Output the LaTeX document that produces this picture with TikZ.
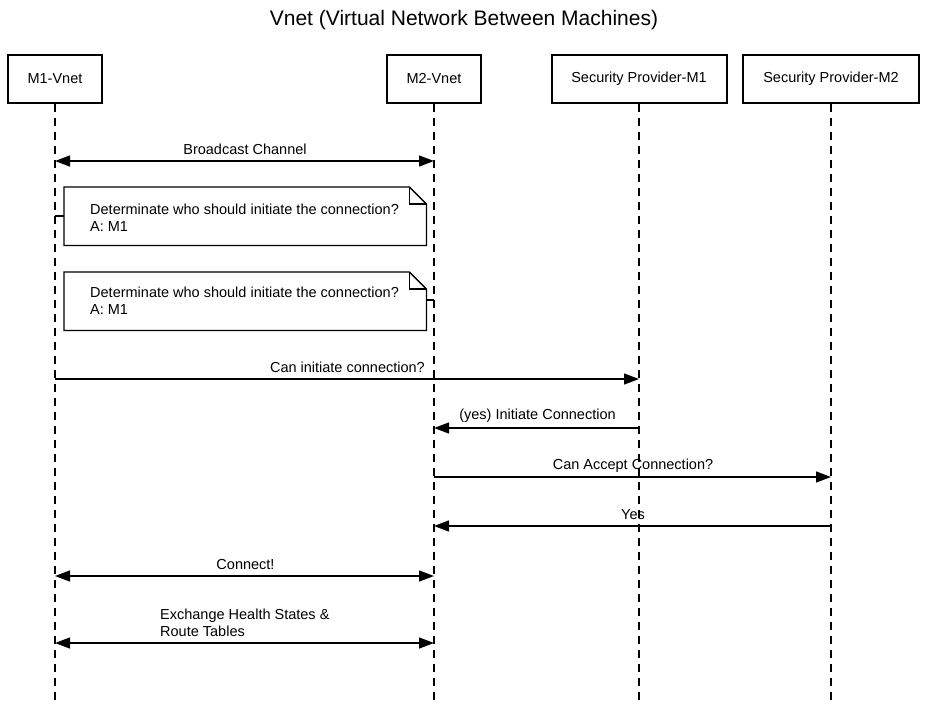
\documentclass[tikz,border=0pt]{standalone}
\usepackage{fontspec}
\setmainfont{Liberation Sans}
\usetikzlibrary{arrows.meta,calc}
\begin{document}
\begin{tikzpicture}[x=1pt,y=-1pt,
  actor/.style={draw,line width=2pt,minimum height=48pt,inner sep=0pt,font=\fontsize{14.5}{17}\selectfont},
  life/.style={line width=1.2pt,dash pattern=on 8pt off 6pt},
  tip/.tip={Triangle[length=15pt,width=11pt]},
  msg/.style={line width=1.3pt,-tip},
  bimsg/.style={line width=1.3pt,tip-tip},
  lbl/.style={font=\fontsize{14.5}{17}\selectfont,inner sep=0pt},
  notebox/.style={minimum width=362pt,minimum height=58pt,inner sep=0pt,anchor=north west},
  noteline/.style={line width=1.3pt}
]
\useasboundingbox (0,0) rectangle (928,704);
\node[font=\fontsize{21}{24}\selectfont] (title) at (464,20) {Vnet (Virtual Network Between Machines)};

% actors
\node[actor,minimum width=94pt] (m1) at (55,79) {M1-Vnet};
\node[actor,minimum width=94pt] (m2) at (434,79) {M2-Vnet};
\node[actor,minimum width=175pt] (s1) at (639,79) {Security Provider-M1};
\node[actor,minimum width=176pt] (s2) at (831,79) {Security Provider-M2};

\coordinate (m1e) at (55,704);
\coordinate (m2e) at (434,704);
\coordinate (s1e) at (639,704);
\coordinate (s2e) at (831,704);
\draw[life] (m1.south) -- (m1e);
\draw[life] (m2.south) -- (m2e);
\draw[life] (s1.south) -- (s1e);
\draw[life] (s2.south) -- (s2e);

% Broadcast channel
\coordinate (a1) at (55,161);
\coordinate (b1) at (434,161);
\draw[bimsg] (a1) -- (b1);
\node[lbl] (l1) at (245,149) {Broadcast Channel};

% note 1
\node[notebox] (n1) at (64,187) {};
\draw[noteline,fill=white] (n1.north west) -- ($(n1.north east)+(-17,0)$) -- ($(n1.north east)+(0,17)$) -- (n1.south east) -- (n1.south west) -- cycle;
\draw[noteline] ($(n1.north east)+(-17,0)$) -- ($(n1.north east)+(-17,17)$) -- ($(n1.north east)+(0,17)$);
\node[lbl,align=left,anchor=west] (t1) at (90,217.5) {Determinate who should initiate the connection?\\A: M1};
\coordinate (c1) at (55,216);
\draw[noteline] (c1) -- (c1 -| n1.west);

% note 2
\node[notebox] (n2) at (64,272) {};
\draw[noteline,fill=white] (n2.north west) -- ($(n2.north east)+(-17,0)$) -- ($(n2.north east)+(0,17)$) -- (n2.south east) -- (n2.south west) -- cycle;
\draw[noteline] ($(n2.north east)+(-17,0)$) -- ($(n2.north east)+(-17,17)$) -- ($(n2.north east)+(0,17)$);
\node[lbl,align=left,anchor=west] (t2) at (90,300.5) {Determinate who should initiate the connection?\\A: M1};
\coordinate (c2) at (434,300);
\draw[noteline] (c2) -- (c2 -| n2.east);

% Can initiate connection?
\coordinate (a3) at (55,379);
\coordinate (b3) at (639,379);
\draw[msg] (a3) -- (b3);
\node[lbl,anchor=east] (l3) at (425,367) {Can initiate connection?};

% (yes) Initiate Connection
\coordinate (a4) at (639,428);
\coordinate (b4) at (434,428);
\draw[msg] (a4) -- (b4);
\node[lbl] (l4) at (537.5,416) {(yes) Initiate Connection};

% Can Accept Connection?
\coordinate (a5) at (434,477);
\coordinate (b5) at (831,477);
\draw[msg] (a5) -- (b5);
\node[lbl] (l5) at (633,466) {Can Accept Connection?};

% Yes
\coordinate (a6) at (831,526);
\coordinate (b6) at (434,526);
\draw[msg] (a6) -- (b6);
\node[lbl] (l6) at (633,515) {Yes};

% Connect!
\coordinate (a7) at (55,576);
\coordinate (b7) at (434,576);
\draw[bimsg] (a7) -- (b7);
\node[lbl] (l7) at (245.5,564) {Connect!};

% Exchange
\coordinate (a8) at (55,643);
\coordinate (b8) at (434,643);
\draw[bimsg] (a8) -- (b8);
\node[lbl,align=left,anchor=west] (l8) at (160,622.5) {Exchange Health States \&\\Route Tables};
\end{tikzpicture}
\end{document}
